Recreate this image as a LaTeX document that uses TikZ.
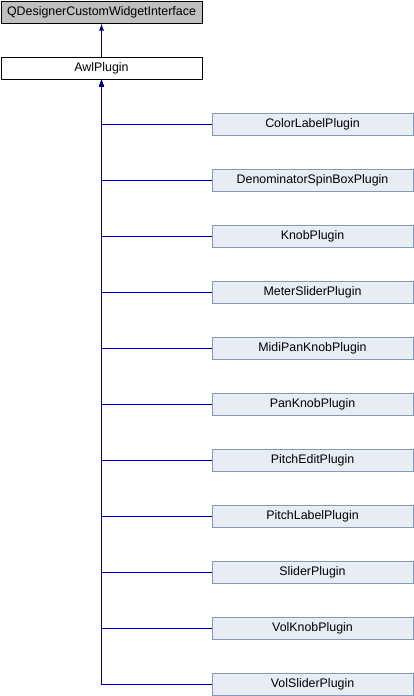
\documentclass[tikz,border=0pt]{standalone}
\usepackage{fontspec}
\setmainfont{Liberation Sans}
\usetikzlibrary{arrows.meta}
\definecolor{edgeblue}{HTML}{000080}
\definecolor{classfill}{HTML}{E8ECF5}
\definecolor{classline}{HTML}{8497C8}
\definecolor{basefill}{HTML}{BFBFBF}

\begin{document}
\begin{tikzpicture}[x=1pt, y=-1pt,
	cls/.style={draw=classline, fill=classfill, line width=1pt, minimum width=201pt, minimum height=22pt, inner sep=0pt, font=\fontsize{12.4}{14}\selectfont},
	basecls/.style={cls, draw=black, fill=basefill},
	awlcls/.style={cls, draw=black, fill=white},
	inherit/.style={draw=edgeblue, line width=1pt, -{Latex[length=7pt, width=5pt]}}]
			%%%%% START %%%%%
			\useasboundingbox (0, 0) rectangle (414, 696);
			
			\node[basecls] (iface) at (101.5, 12) {QDesignerCustomWidgetInterface};
			\node[awlcls] (awl) at (101.5, 68) {AwlPlugin};
			\draw[inherit] (awl.north) -- (iface.south);
			
			\node[cls] (colorlabel) at (312.5, 124) {ColorLabelPlugin};
			\node[cls] (denomspin) at (312.5, 180) {DenominatorSpinBoxPlugin};
			\node[cls] (knob) at (312.5, 236) {KnobPlugin};
			\node[cls] (meterslider) at (312.5, 292) {MeterSliderPlugin};
			\node[cls] (midipanknob) at (312.5, 348) {MidiPanKnobPlugin};
			\node[cls] (panknob) at (312.5, 404) {PanKnobPlugin};
			\node[cls] (pitchedit) at (312.5, 460) {PitchEditPlugin};
			\node[cls] (pitchlabel) at (312.5, 516) {PitchLabelPlugin};
			\node[cls] (slider) at (312.5, 572) {SliderPlugin};
			\node[cls] (volknob) at (312.5, 628) {VolKnobPlugin};
			\node[cls] (volslider) at (312.5, 684) {VolSliderPlugin};
			
			\draw[inherit] (colorlabel.west) -| (awl.south);
			\draw[inherit] (denomspin.west) -| (awl.south);
			\draw[inherit] (knob.west) -| (awl.south);
			\draw[inherit] (meterslider.west) -| (awl.south);
			\draw[inherit] (midipanknob.west) -| (awl.south);
			\draw[inherit] (panknob.west) -| (awl.south);
			\draw[inherit] (pitchedit.west) -| (awl.south);
			\draw[inherit] (pitchlabel.west) -| (awl.south);
			\draw[inherit] (slider.west) -| (awl.south);
			\draw[inherit] (volknob.west) -| (awl.south);
			\draw[inherit] (volslider.west) -| (awl.south);
			
			%%%%% END %%%%%
\end{tikzpicture}
\end{document}
